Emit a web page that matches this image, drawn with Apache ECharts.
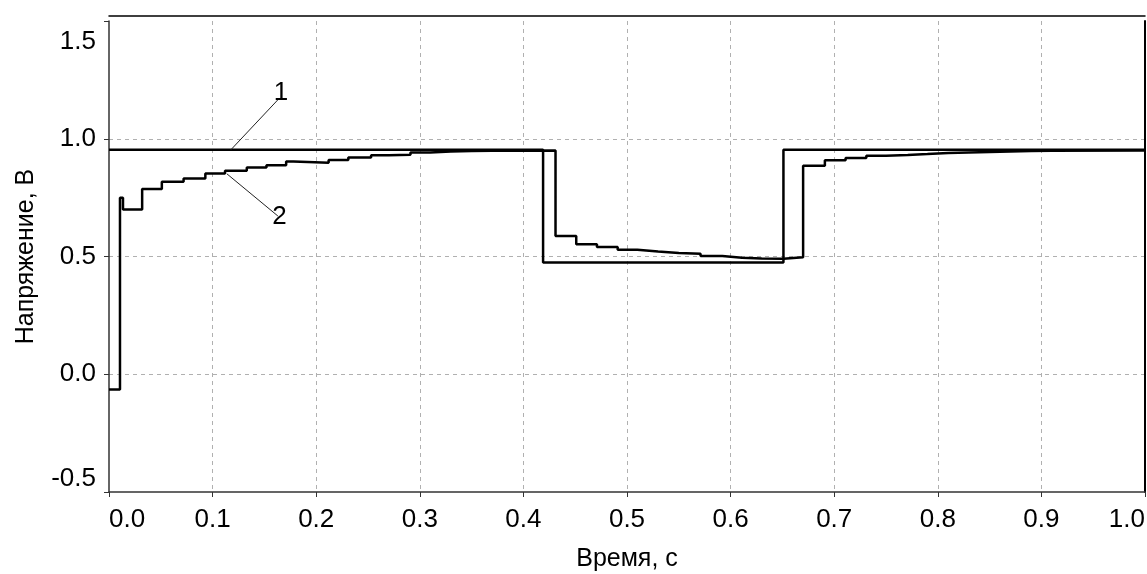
<!DOCTYPE html>
<html>
<head>
<meta charset="utf-8">
<script src="https://cdn.jsdelivr.net/npm/echarts@6/dist/echarts.min.js"></script>
<style>
  html, body { margin: 0; padding: 0; background: #fff; }
  #chart { width: 1147px; height: 574px; }
</style>
</head>
<body>
<div id="chart"></div>
<script>
// curve 1 (step levels, each value holds until the next time)
const time1 = [0, 0.419, 0.651, 1.0];
const volt1 = [0.953, 0.474, 0.953, 0.953];

// curve 2
const time2 = [0, 0.0106, 0.0135, 0.032, 0.051, 0.072, 0.093, 0.112, 0.133, 0.152,
  0.171, 0.178, 0.212, 0.231, 0.253, 0.27, 0.291, 0.31, 0.33, 0.35, 0.37,
  0.431, 0.451, 0.471, 0.491, 0.51, 0.53, 0.55, 0.571, 0.592, 0.611, 0.63, 0.651,
  0.67, 0.691, 0.711, 0.731, 0.75, 0.771, 0.79, 0.81, 0.83, 0.85, 0.87, 0.89, 0.91, 1.0];
const volt2 = [-0.065, 0.75, 0.70, 0.787, 0.817, 0.831, 0.852, 0.864, 0.878, 0.888,
  0.903, 0.898, 0.910, 0.920, 0.930, 0.932, 0.942, 0.946, 0.948, 0.949, 0.950,
  0.587, 0.552, 0.540, 0.529, 0.521, 0.515, 0.512, 0.502, 0.495, 0.491, 0.490, 0.497,
  0.885, 0.909, 0.918, 0.928, 0.931, 0.935, 0.940, 0.942, 0.944, 0.946, 0.948, 0.949, 0.950, 0.950];

// curve labels with their leader lines
const labelNames = ['1', '2'];
const leaderFrom = [[0.1176, 0.953], [0.1138, 0.851]];
const leaderTo = [[0.164, 1.17], [0.163, 0.672]];

const xTicks = { min: 0, max: 1, interval: 0.1 };
const yTicks = { min: -0.5, max: 1.5, interval: 0.5 };

const FONT = '"Liberation Sans", Arial, sans-serif';
const zip = (xs, ys) => xs.map((x, i) => [x, ys[i]]);

const chart = echarts.init(document.getElementById('chart'));

const gridLine = {
  show: true,
  showMinLine: false,
  showMaxLine: false,
  lineStyle: { color: '#b0b0b0', width: 1, type: [4, 4] },
};

const curveLabel = (i, dist) => ({
  silent: true,
  symbol: 'none',
  lineStyle: { color: '#222', width: 1, type: 'solid' },
  label: {
    show: true, position: 'end', distance: dist,
    fontFamily: FONT, fontSize: 26, color: '#000',
    formatter: labelNames[i],
  },
  data: [[{ coord: leaderFrom[i] }, { coord: leaderTo[i] }]],
});

chart.setOption({
  animation: false,
  backgroundColor: '#fff',
  grid: { left: 109, right: 2, top: 21, bottom: 82, outerBoundsMode: 'none' },
  xAxis: [
    {
      type: 'value',
      min: xTicks.min,
      max: xTicks.max,
      interval: xTicks.interval,
      name: 'Время, с',
      nameLocation: 'middle',
      nameGap: 55,
      nameTextStyle: { fontFamily: FONT, fontSize: 25, color: '#000' },
      axisLine: { onZero: false, lineStyle: { color: '#333', width: 1.5 } },
      axisTick: { show: true, length: 5, lineStyle: { color: '#333' } },
      axisLabel: {
        fontFamily: FONT, fontSize: 26, color: '#000', margin: 15,
        alignMinLabel: 'left', alignMaxLabel: 'right',
        formatter: (v) => v.toFixed(1),
      },
      splitLine: gridLine,
    },
    {
      // top frame line
      type: 'value',
      position: 'top',
      offset: 5,
      min: xTicks.min,
      max: xTicks.max,
      axisLine: { show: true, onZero: false, lineStyle: { color: '#000', width: 1.5 } },
      axisTick: { show: false },
      axisLabel: { show: false },
      splitLine: { show: false },
    },
  ],
  yAxis: [
    {
      type: 'value',
      min: yTicks.min,
      max: yTicks.max,
      interval: yTicks.interval,
      name: 'Напряжение, В',
      nameLocation: 'middle',
      nameGap: 70,
      nameTextStyle: { fontFamily: FONT, fontSize: 25, color: '#000' },
      axisLine: { show: true, onZero: false, lineStyle: { color: '#333', width: 1.5 } },
      axisTick: { show: true, length: 5, lineStyle: { color: '#333' } },
      axisLabel: {
        fontFamily: FONT, fontSize: 26, color: '#000', margin: 13,
        verticalAlignMaxLabel: 'top', verticalAlignMinLabel: 'bottom',
        formatter: (v) => (v === yTicks.max ? '{top|' + v.toFixed(1) + '}' : v.toFixed(1)),
        rich: { top: { fontFamily: FONT, fontSize: 26, color: '#000', padding: [8, 0, 0, 0] } },
      },
      splitLine: gridLine,
    },
    {
      // right frame line
      type: 'value',
      position: 'right',
      min: yTicks.min,
      max: yTicks.max,
      axisLine: { show: true, onZero: false, lineStyle: { color: '#000', width: 2 } },
      axisTick: { show: false },
      axisLabel: { show: false },
      splitLine: { show: false },
    },
  ],
  series: [
    {
      name: '1',
      type: 'line',
      step: 'end',
      showSymbol: false,
      data: zip(time1, volt1),
      lineStyle: { color: '#000', width: 2.5 },
      markLine: curveLabel(0, [3, 8]),
    },
    {
      name: '2',
      type: 'line',
      step: 'end',
      showSymbol: false,
      data: zip(time2, volt2),
      lineStyle: { color: '#000', width: 2.5 },
      markLine: curveLabel(1, 2),
    },
  ],
});
</script>
</body>
</html>
